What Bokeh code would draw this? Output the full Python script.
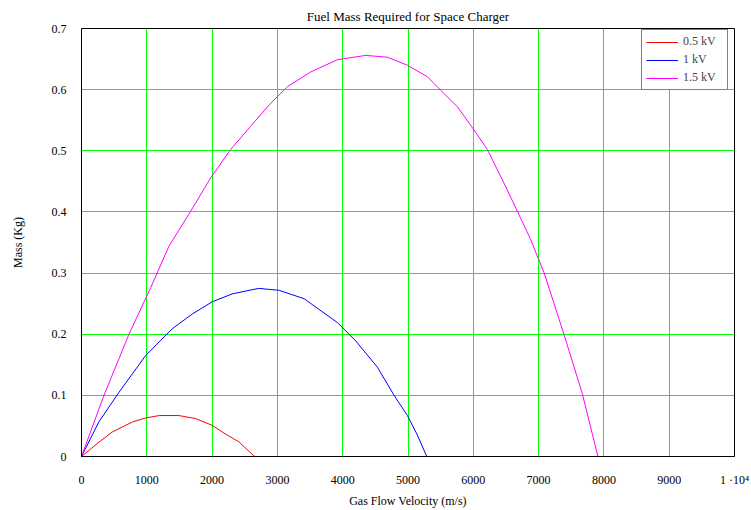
from bokeh.plotting import figure
from bokeh.models import Range1d, FixedTicker, CustomJSTickFormatter, Legend, LegendItem
from bokeh.embed import file_html
from bokeh.resources import INLINE

# data
v_05 = [0, 250, 470, 780, 980, 1190, 1490, 1750, 2000, 2200, 2410, 2650]
m_05 = [0, 0.022, 0.040, 0.0565, 0.063, 0.067, 0.067, 0.062, 0.051, 0.037, 0.024, 0]

v_10 = [0, 268, 574, 982, 1390, 1696, 2002, 2308, 2716, 2900, 3022, 3410, 3920, 4200, 4532, 4787, 4991, 5144, 5287]
m_10 = [0, 0.057, 0.105, 0.165, 0.209, 0.233, 0.253, 0.266, 0.275, 0.273, 0.272, 0.258, 0.219, 0.189, 0.146, 0.100, 0.067, 0.035, 0]

v_15 = [0, 344, 727, 1059, 1339, 1671, 1977, 2283, 2589, 2900, 3155, 3512, 3920, 4353, 4685, 4991,
        5298, 5501, 5757, 6011, 6216, 6470, 6675, 6878, 7082, 7388, 7669, 7908]
m_15 = [0, 0.100, 0.200, 0.276, 0.344, 0.401, 0.4555, 0.502, 0.540, 0.578, 0.605, 0.629, 0.649, 0.656, 0.653, 0.640,
        0.621, 0.599, 0.572, 0.534, 0.502, 0.447, 0.401, 0.355, 0.301, 0.200, 0.103, 0]

x_ticks = [0, 1000, 2000, 3000, 4000, 5000, 6000, 7000, 8000, 9000, 10000]
y_ticks = [0, 0.1, 0.2, 0.3, 0.4, 0.5, 0.6, 0.7]
series_names = ["0.5 kV", "1 kV", "1.5 kV"]
series_colors = ["#ff0000", "#0000ff", "#ff00ff"]

FONT = "Liberation Serif"

p = figure(width=751, height=510, output_backend="svg", toolbar_location=None,
           x_range=Range1d(0, 10000), y_range=Range1d(0, 0.7),
           min_border_left=81, min_border_right=17, min_border_top=28, min_border_bottom=52,
           title="Fuel Mass Required for Space Charger")
p.title.align = "center"
p.title.text_font = FONT
p.title.text_font_size = "13px"
p.title.text_font_style = "normal"
p.title.text_color = "#000000"

p.background_fill_color = "white"
p.border_fill_color = "white"
p.outline_line_color = "#000000"
p.outline_line_width = 1

for ax in (p.xaxis[0], p.yaxis[0]):
    ax.major_tick_line_color = None
    ax.minor_tick_line_color = None
    ax.axis_line_color = "#000000"
    ax.axis_line_width = 1
    ax.major_label_text_font = FONT
    ax.major_label_text_font_size = "12px"
    ax.major_label_text_color = "#000000"
    ax.axis_label_text_font = FONT
    ax.axis_label_text_font_size = "12px"
    ax.axis_label_text_font_style = "normal"
    ax.axis_label_text_color = "#000000"

p.xaxis.ticker = FixedTicker(ticks=x_ticks)
p.yaxis.ticker = FixedTicker(ticks=y_ticks)
p.xaxis.formatter = CustomJSTickFormatter(code="return tick >= 10000 ? '1 \u00b710\u2074' : tick.toFixed(0);")
p.yaxis.formatter = CustomJSTickFormatter(code="return tick == 0 ? '0' : tick.toFixed(1);")
p.xaxis.major_label_standoff = 10
p.yaxis.major_label_standoff = 9
p.xaxis.axis_label = "Gas Flow Velocity (m/s)"
p.yaxis.axis_label = "Mass (Kg)"
p.xaxis.axis_label_standoff = 4
p.yaxis.axis_label_standoff = 24

p.xgrid.grid_line_color = "#00ff00"
p.ygrid.grid_line_color = "#00ff00"
p.xgrid.grid_line_width = 1
p.ygrid.grid_line_width = 1

r1 = p.line(v_05, m_05, color=series_colors[0], line_width=1)
r2 = p.line(v_10, m_10, color=series_colors[1], line_width=1)
r3 = p.line(v_15, m_15, color=series_colors[2], line_width=1)

legend = Legend(items=[LegendItem(label=series_names[0], renderers=[r1]),
                       LegendItem(label=series_names[1], renderers=[r2]),
                       LegendItem(label=series_names[2], renderers=[r3])],
                location=(560, 366))
legend.label_text_font = FONT
legend.label_text_font_size = "12px"
legend.label_height = 14
legend.label_width = 40
legend.glyph_height = 14
legend.glyph_width = 32
legend.label_standoff = 5
legend.spacing = 3
legend.padding = 4
legend.margin = 0
legend.border_line_color = "#000000"
legend.border_line_width = 1
legend.background_fill_color = "white"
legend.background_fill_alpha = 1
p.add_layout(legend, "center")

open("out.html", "w").write(file_html(p, INLINE))
